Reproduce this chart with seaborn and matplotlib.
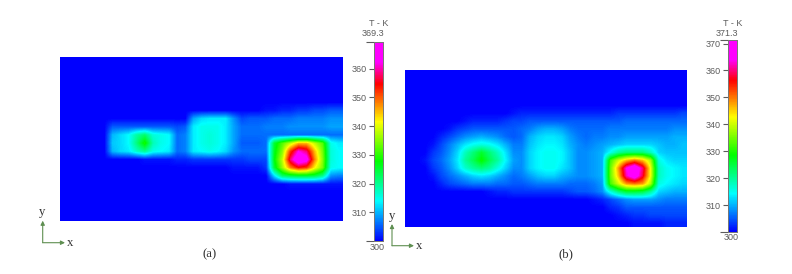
import numpy as np
import matplotlib
matplotlib.use('Agg')
import matplotlib.pyplot as plt
from matplotlib.colors import LinearSegmentedColormap
import seaborn as sns

# Temperature, one row per 8 px or so (K)
B = 300
temp_a = [
    [B] * 35,
    [B] * 35,
    [B] * 35,
    [B] * 35,
    [B] * 35,
    [B] * 35,
    [B] * 25 + [301, 301, 302, 302, 303, 303, 304, 304, 305, 305],
    [B] * 16 + [309, 312, 313, 313, 313, 308, 304, 305, 305, 305, 306, 306, 306, 307, 307, 307, 307, 308, 308],
    [B] * 6 + [305, 305, 305, 305, 305, 305, 305, 305, 304, 305, 313, 315, 315, 315, 313, 309, 306, 306, 306, 307, 307, 307, 308, 308, 308, 308, 308, 309, 309],
    [B] * 6 + [310, 312, 314, 319, 322, 316, 315, 314, 306, 307, 313, 315, 316, 315, 313, 309, 306, 306, 306, 306, 306, 306, 306, 306, 306, 306, 306, 306, 306],
    [B] * 6 + [311, 312, 314, 321, 329, 318, 315, 314, 306, 307, 313, 315, 316, 315, 313, 309, 305, 305, 305, 306, 325, 332, 338, 345, 345, 338, 332, 315, 313],
    [B] * 6 + [310, 312, 313, 317, 320, 315, 314, 313, 306, 307, 313, 314, 315, 314, 312, 308, 306, 306, 306, 306, 326, 335, 352, 362, 358, 345, 334, 316, 314],
    [B] * 10 + [301, 301, 301, 301, 302, 302, 303, 303, 303, 303, 303, 303, 303, 304, 304, 304, 327, 338, 358, 369, 365, 348, 335, 316, 314],
    [B] * 20 + [300, 301, 301, 301, 301, 303, 325, 336, 348, 354, 352, 342, 334, 315, 314],
    [B] * 25 + [300, 312, 322, 324, 325, 325, 324, 320, 308, 307],
    [B] * 28 + [301, 301, 301, 301, 301, 301, 301],
    [B] * 35,
    [B] * 35,
    [B] * 35,
    [B] * 35,
]
temp_b = [
    [B] * 35,
    [B] * 35,
    [B] * 35,
    [B] * 35,
    [B] * 35,
    [B] * 13 + [301, 302, 302, 302, 302, 302, 302, 302, 302, 302, 302, 302, 302, 303, 303, 303, 303, 303, 303, 303, 303, 304],
    [B] * 7 + [301, 302, 302, 302, 302, 303, 304, 304, 305, 305, 305, 305, 305, 305, 305, 305, 305, 305, 305, 305, 306, 306, 306, 306, 306, 306, 306, 306],
    [B] * 5 + [301, 303, 304, 305, 305, 305, 305, 305, 305, 306, 307, 309, 310, 310, 309, 307, 306, 306, 306, 306, 307, 307, 307, 307, 307, 307, 307, 307, 308, 308],
    [B] * 3 + [300, 302, 304, 306, 308, 309, 310, 309, 308, 306, 305, 306, 310, 312, 313, 313, 312, 309, 307, 306, 307, 307, 308, 308, 309, 309, 309, 309, 309, 309, 310, 310],
    [B] * 3 + [301, 304, 307, 310, 313, 315, 316, 315, 313, 310, 307, 307, 311, 313, 314, 314, 313, 310, 308, 307, 308, 309, 310, 311, 312, 312, 312, 312, 311, 310, 310, 311],
    [B] * 2 + [300, 303, 305, 308, 312, 318, 322, 326, 322, 318, 313, 308, 308, 312, 314, 315, 315, 314, 311, 308, 308, 309, 310, 315, 320, 322, 322, 322, 318, 312, 311, 311, 311],
    [B] * 2 + [301, 304, 306, 309, 313, 320, 324, 329, 324, 320, 314, 309, 308, 312, 314, 315, 315, 314, 311, 308, 308, 309, 310, 332, 340, 346, 350, 346, 338, 316, 313, 312, 312],
    [B] * 2 + [300, 303, 305, 308, 312, 317, 320, 322, 320, 316, 312, 308, 308, 312, 314, 315, 315, 313, 311, 308, 308, 309, 310, 334, 348, 364, 371, 360, 342, 318, 315, 314, 313],
    [B] * 3 + [301, 304, 306, 308, 310, 312, 313, 312, 310, 308, 306, 307, 309, 311, 312, 312, 310, 309, 308, 308, 309, 310, 334, 346, 362, 369, 358, 342, 318, 315, 314, 313],
    [B] * 4 + [302, 304, 305, 306, 307, 307, 307, 306, 306, 305, 305, 306, 307, 307, 307, 307, 306, 306, 306, 307, 309, 332, 340, 348, 350, 348, 338, 316, 314, 313, 312],
    [B] * 10 + [301, 302, 302, 303, 303, 303, 303, 303, 303, 303, 304, 305, 305, 306, 308, 316, 322, 326, 326, 325, 320, 312, 311, 310, 310],
    [B] * 23 + [301, 302, 304, 306, 308, 309, 309, 309, 308, 307, 307, 307],
    [B] * 25 + [302, 303, 305, 305, 305, 305, 305, 305, 305, 305],
    [B] * 26 + [301, 302, 303, 303, 304, 304, 304, 304, 304],
    [B] * 28 + [301, 301, 301, 301, 302, 302, 302],
]
vmax_a = 369.3
vmax_b = 371.3
ticks_a = [310, 320, 330, 340, 350, 360]
ticks_b = [310, 320, 330, 340, 350, 360, 370]

W, H = 792, 274
GREY = '#5c5c5c'
GREEN = '#5f8f52'
sns.set_theme(style='white')
plt.rcParams['font.family'] = ['Liberation Sans', 'DejaVu Sans']

cmap = LinearSegmentedColormap.from_list('temp', [
    (0.0, '#0000ff'), (0.2, '#00ffff'), (0.4, '#00ff00'), (0.6, '#ffff00'),
    (0.79, '#ff0000'), (0.9, '#ff00ff'), (1.0, '#ff00ff')])


def px_axes(fig, x0, y0, x1, y1):
    return fig.add_axes([x0 / W, 1 - y1 / H, (x1 - x0) / W, (y1 - y0) / H])


def draw_panel(fig, temp, vmax, ticks, box, cbox):
    ax = px_axes(fig, *box)
    cax = px_axes(fig, *cbox)
    temp = np.array(temp, dtype=float)
    sns.heatmap(temp, ax=ax, cbar_ax=cax, cmap=cmap, vmin=300, vmax=vmax,
                xticklabels=False, yticklabels=False)
    # smooth field instead of blocks, the heatmap mesh only gives axes + colorbar
    ax.collections[0].set_visible(False)
    ax.imshow(temp, cmap=cmap, vmin=300, vmax=vmax, aspect='auto',
              interpolation='bilinear', interpolation_stage='data',
              extent=(0, temp.shape[1], temp.shape[0], 0))
    cax.yaxis.set_ticks_position('left')
    cax.set_yticks(ticks)
    cax.set_yticks([300, vmax], minor=True)
    cax.tick_params(axis='y', which='major', length=3.6, width=0.8, color=GREY,
                    labelcolor=GREY, labelsize=6.5, pad=1.5, left=True, right=False)
    cax.tick_params(axis='y', which='minor', length=6, width=0.8, color=GREY,
                    left=True, right=False)
    for s in cax.spines.values():
        s.set_visible(True)
        s.set_color('#777777')
        s.set_linewidth(0.6)


fig = plt.figure(figsize=(W / 100, H / 100), dpi=100)
draw_panel(fig, temp_a, vmax_a, ticks_a, (60, 57, 343, 221), (374, 42, 383, 241))
draw_panel(fig, temp_b, vmax_b, ticks_b, (405, 70, 687, 227), (728, 40, 737, 232))

# overlay in pixel coords for labels and the x/y arrows
ov = fig.add_axes([0, 0, 1, 1])
ov.set_xlim(0, W)
ov.set_ylim(H, 0)
ov.axis('off')
ov.patch.set_alpha(0)

for label, x, y in [('T - K', 379, 24), ('369.3', 373, 34), ('300', 377, 247),
                    ('T - K', 733, 23), ('371.3', 727, 33), ('300', 731, 238)]:
    ov.text(x, y, label, color=GREY, fontsize=6.5, ha='center', va='center')

for ox, oy, tx, ty in [(42.7, 242.7, 65, 220.7), (392, 245.7, 414, 224)]:
    ov.annotate('', xy=(tx, oy), xytext=(ox, oy),
                arrowprops=dict(arrowstyle='-|>', color=GREEN, lw=0.8, mutation_scale=6, shrinkA=0, shrinkB=0))
    ov.annotate('', xy=(ox, ty), xytext=(ox, oy),
                arrowprops=dict(arrowstyle='-|>', color=GREEN, lw=0.8, mutation_scale=6, shrinkA=0, shrinkB=0))

for label, x, y in [('y', 42.5, 212), ('x', 70, 243), ('(a)', 210, 254),
                    ('y', 392, 216), ('x', 419, 246), ('(b)', 566, 254)]:
    ov.text(x, y, label, color='#333333', fontsize=9.2, ha='center', va='center',
            family='Liberation Serif')

fig.savefig('out.png', dpi=100)
